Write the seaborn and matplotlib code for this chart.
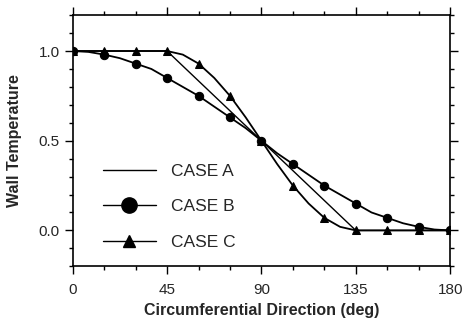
import numpy as np
import pandas as pd
import seaborn as sns
import matplotlib.pyplot as plt
from matplotlib.lines import Line2D
from matplotlib.ticker import MultipleLocator

# angles (deg), read every 7.5 deg; markers every 15 deg
angle = [0, 7.5, 15, 22.5, 30, 37.5, 45, 52.5, 60, 67.5, 75, 82.5, 90,
         97.5, 105, 112.5, 120, 127.5, 135, 142.5, 150, 157.5, 165, 172.5, 180]
case_b = [1.0, 0.995, 0.98, 0.96, 0.93, 0.90, 0.85, 0.80, 0.75, 0.69, 0.63, 0.57, 0.5,
          0.43, 0.37, 0.31, 0.25, 0.20, 0.15, 0.10, 0.07, 0.04, 0.02, 0.005, 0.0]
case_c = [1.0, 1.0, 1.0, 1.0, 1.0, 1.0, 1.0, 0.98, 0.93, 0.85, 0.75, 0.63, 0.5,
          0.37, 0.25, 0.15, 0.07, 0.02, 0.0, 0.0, 0.0, 0.0, 0.0, 0.0, 0.0]
angle_a = [0, 45, 135, 180]
case_a = [1.0, 1.0, 0.0, 0.0]

sns.set_style("ticks")
plt.rcParams['font.family'] = ['Liberation Sans', 'DejaVu Sans']

fig = plt.figure(figsize=(4.66, 3.22), dpi=100)
ax = fig.add_axes([0.156, 0.173, 0.81, 0.78])

sns.lineplot(x=angle_a, y=case_a, ax=ax, color='black', lw=1.0)
sns.lineplot(x=angle, y=case_b, ax=ax, color='black', lw=1.3,
             marker='o', markersize=6, markevery=2, mec='black')
sns.lineplot(x=angle, y=case_c, ax=ax, color='black', lw=1.3,
             marker='^', markersize=6, markevery=2, mec='black')

ax.set_xlim(0, 180)
ax.set_ylim(-0.2, 1.2)
ax.set_xticks([0, 45, 90, 135, 180])
ax.set_yticks([0.0, 0.5, 1.0])
ax.set_yticklabels(['0.0', '0.5', '1.0'])
ax.xaxis.set_minor_locator(MultipleLocator(15))
ax.yaxis.set_minor_locator(MultipleLocator(0.1))
ax.tick_params(which='both', direction='out', top=True, right=True,
               labelsize=11, color='black', width=1)
ax.tick_params(axis='x', pad=6)
ax.tick_params(which='major', length=6)
ax.tick_params(which='minor', length=3)
for s in ax.spines.values():
    s.set_color('black')
    s.set_linewidth(1.2)

ax.set_xlabel('Circumferential Direction (deg)', fontsize=11.5, fontweight='bold', labelpad=4)
ax.set_ylabel('Wall Temperature', fontsize=11.5, fontweight='bold', labelpad=12)

handles = [
    Line2D([], [], color='black', lw=1.0),
    Line2D([], [], color='black', lw=1.0, marker='o', markersize=11),
    Line2D([], [], color='black', lw=1.0, marker='^', markersize=8),
]
ax.legend(handles, ['CASE A', 'CASE B', 'CASE C'], loc='upper left',
          bbox_to_anchor=(0.04, 0.47), frameon=False, fontsize=12.5,
          handlelength=3.0, handletextpad=0.9, labelspacing=1.17)

fig.savefig('out.png', dpi=100)
